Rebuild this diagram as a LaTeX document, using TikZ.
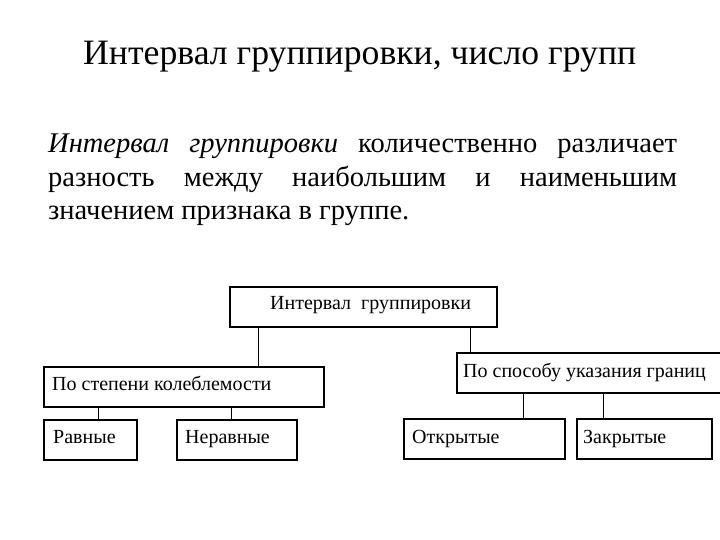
\documentclass[tikz,border=0pt]{standalone}
\usepackage{fontspec}
\setmainfont{Liberation Serif}
\begin{document}
\begin{tikzpicture}[x=1pt,y=-1pt,
  box/.style={draw=black, line width=1.2pt, inner sep=0pt, minimum height=40pt},
  txt/.style={anchor=base west, inner sep=0pt, font=\fontsize{20}{22}\selectfont},
  para/.style={anchor=base west, inner sep=0pt, font=\fontsize{28.5}{33}\selectfont},
  conn/.style={draw=black, line width=1pt}]
\useasboundingbox (0,0) rectangle (720,540);
\fill[white] (0,0) rectangle (720,540);
% title
\node[anchor=base west, inner sep=0pt, font=\fontsize{35.7}{40}\selectfont] (title) at (83,65) {Интервал группировки, число групп};
% paragraph
\node[para] (p1) at (48,153)
  {\makebox[629pt][s]{\textit{Интервал группировки} количественно различает}};
\node[para] (p2) at (48,187)
  {\makebox[629pt][s]{разность между наибольшим и наименьшим}};
\node[para] (p3) at (48,220)
  {значением признака в группе.};
% boxes
\node[box, minimum width=267pt] (top) at (363.5,307) {};
\node[box, minimum width=280pt] (kol) at (184,387) {};
\node[box, minimum width=267pt] (gran) at (590.5,373) {};
\node[box, minimum width=93pt] (ravn) at (90.5,440) {};
\node[box, minimum width=120pt] (nerav) at (237,440) {};
\node[box, minimum width=161pt] (otkr) at (484.5,439) {};
\node[box, minimum width=135pt] (zakr) at (644.5,439) {};
% texts
\node[txt] (ttop) at (270,309) {Интервал\ \ группировки};
\node[txt] (tkol) at (52,390) {По степени колеблемости};
\node[txt] (tgran) at (463,377) {По способу указания границ};
\node[txt] (travn) at (53,443) {Равные};
\node[txt] (tnerav) at (185,443) {Неравные};
\node[txt] (totkr) at (412,443) {Открытые};
\node[txt] (tzakr) at (583,443) {Закрытые};
% connectors
\coordinate (x1) at (258,0);
\coordinate (x2) at (470,0);
\coordinate (x3) at (98,0);
\coordinate (x4) at (231,0);
\coordinate (x5) at (523,0);
\coordinate (x6) at (603,0);
\draw[conn] (top.south -| x1) -- (kol.north -| x1);
\draw[conn] (top.south -| x2) -- (gran.north -| x2);
\draw[conn] (kol.south -| x3) -- (ravn.north -| x3);
\draw[conn] (kol.south -| x4) -- (nerav.north -| x4);
\draw[conn] (gran.south -| x5) -- (otkr.north -| x5);
\draw[conn] (gran.south -| x6) -- (zakr.north -| x6);
\end{tikzpicture}
\end{document}
